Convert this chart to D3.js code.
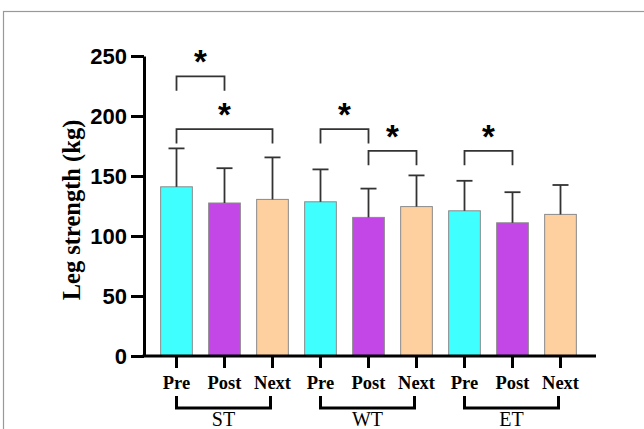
<!DOCTYPE html>
<html>
<head>
<meta charset="utf-8">
<script src="https://cdn.jsdelivr.net/npm/d3@7"></script>
<style>
  body { margin: 0; background: #fff; }
  svg { display: block; }
</style>
</head>
<body>
<div id="chart"></div>
<script>
// values
const groups = ['ST', 'WT', 'ET'];
const phases = ['Pre', 'Post', 'Next'];
const means = [141, 127.5, 130.5, 128.5, 115.5, 124.5, 121, 111, 118];
const upper = [173, 156.5, 165.5, 155.5, 139.5, 150.5, 146, 136.5, 142.5];
const yTicks = [0, 50, 100, 150, 200, 250];
// significance brackets: [from bar, to bar, bracket level]
const sigPairs = [[0, 1, 233], [0, 2, 189], [3, 4, 189], [4, 5, 171], [6, 7, 171]];

const colors = {Pre: '#40ffff', Post: '#c346e6', Next: '#ffd09f'};

const W = 644, H = 429;
const svg = d3.select('#chart').append('svg')
    .attr('width', W)
    .attr('height', H);

// outer frame
svg.append('rect')
    .attr('x', 3.5).attr('y', 11.5)
    .attr('width', W + 20).attr('height', H + 20)
    .attr('fill', 'none')
    .attr('stroke', '#999')
    .attr('stroke-width', 1.2);

const bars = [];
groups.forEach(g => phases.forEach(p => bars.push({group: g, phase: p, key: g + '-' + p})));
bars.forEach((d, i) => { d.mean = means[i]; d.upper = upper[i]; });

const x = d3.scaleBand()
    .domain(bars.map(d => d.key))
    .range([152.5, 584.5])
    .paddingInner(0.34)
    .paddingOuter(0.17);
const y = d3.scaleLinear()
    .domain([0, 250])
    .range([356, 56]);

const cx = k => x(k) + x.bandwidth() / 2;

// bars
svg.selectAll('rect.bar')
    .data(bars)
    .enter()
    .append('rect')
    .attr('class', 'bar')
    .attr('x', d => x(d.key))
    .attr('y', d => y(d.mean))
    .attr('width', x.bandwidth())
    .attr('height', d => y(0) - y(d.mean))
    .attr('fill', d => colors[d.phase])
    .attr('stroke', '#8a8a8a')
    .attr('stroke-width', 1);

// error bars (upper only)
const err = svg.append('g')
    .attr('stroke', '#333')
    .attr('stroke-width', 1.8);
bars.forEach(d => {
    err.append('line')
        .attr('x1', cx(d.key)).attr('x2', cx(d.key))
        .attr('y1', y(d.mean)).attr('y2', y(d.upper));
    err.append('line')
        .attr('x1', cx(d.key) - 8).attr('x2', cx(d.key) + 8)
        .attr('y1', y(d.upper)).attr('y2', y(d.upper));
});

// y axis
const yAxis = svg.append('g')
    .attr('transform', 'translate(144,0)')
    .call(d3.axisLeft(y).tickValues(yTicks).tickSize(13).tickPadding(4).tickSizeOuter(0));
yAxis.select('.domain').attr('stroke-width', 3);
yAxis.selectAll('.tick line').attr('stroke-width', 3);
yAxis.selectAll('.tick text')
    .attr('font-family', 'Liberation Sans, Arial, sans-serif')
    .attr('font-weight', 'bold')
    .attr('font-size', 22)
    .attr('fill', '#000');

// x axis
const xAxis = svg.append('g')
    .attr('transform', 'translate(0,356)')
    .call(d3.axisBottom(x).tickSize(12).tickPadding(8).tickFormat(k => k.split('-')[1]));
xAxis.select('.domain').attr('d', 'M142.5,0H596').attr('stroke-width', 3);
xAxis.selectAll('.tick line').attr('stroke-width', 3);
xAxis.selectAll('.tick text')
    .attr('font-family', 'Liberation Serif, Times New Roman, serif')
    .attr('font-weight', 'bold')
    .attr('font-size', 18.5)
    .attr('fill', '#000');

// y axis label
svg.append('text')
    .attr('transform', 'translate(80,210) rotate(-90)')
    .attr('text-anchor', 'middle')
    .attr('font-family', 'Liberation Serif, Times New Roman, serif')
    .attr('font-weight', 'bold')
    .attr('font-size', 24.5)
    .text('Leg strength (kg)');

// group brackets under the axis
groups.forEach(g => {
    const x0 = cx(g + '-Pre'), x1 = cx(g + '-Next') - 2;
    svg.append('path')
        .attr('d', `M${x0},396V408H${x1}V396`)
        .attr('fill', 'none')
        .attr('stroke', '#000')
        .attr('stroke-width', 3);
    svg.append('text')
        .attr('x', (x0 + x1) / 2)
        .attr('y', 426)
        .attr('text-anchor', 'middle')
        .attr('font-family', 'Liberation Serif, Times New Roman, serif')
        .attr('font-size', 20)
        .text(g);
});

// significance brackets
sigPairs.forEach(([a, b, lvl]) => {
    const x0 = cx(bars[a].key), x1 = cx(bars[b].key);
    const yt = y(lvl), yb = y(lvl - 12);
    svg.append('path')
        .attr('d', `M${x0},${yb}V${yt}H${x1}V${yb}`)
        .attr('fill', 'none')
        .attr('stroke', '#333')
        .attr('stroke-width', 1.8);
    svg.append('text')
        .attr('x', (x0 + x1) / 2)
        .attr('y', yt - 3)
        .attr('text-anchor', 'middle')
        .attr('font-family', 'Liberation Sans, Arial, sans-serif')
        .attr('font-weight', 'bold')
        .attr('font-size', 33)
        .text('*');
});
</script>
</body>
</html>
